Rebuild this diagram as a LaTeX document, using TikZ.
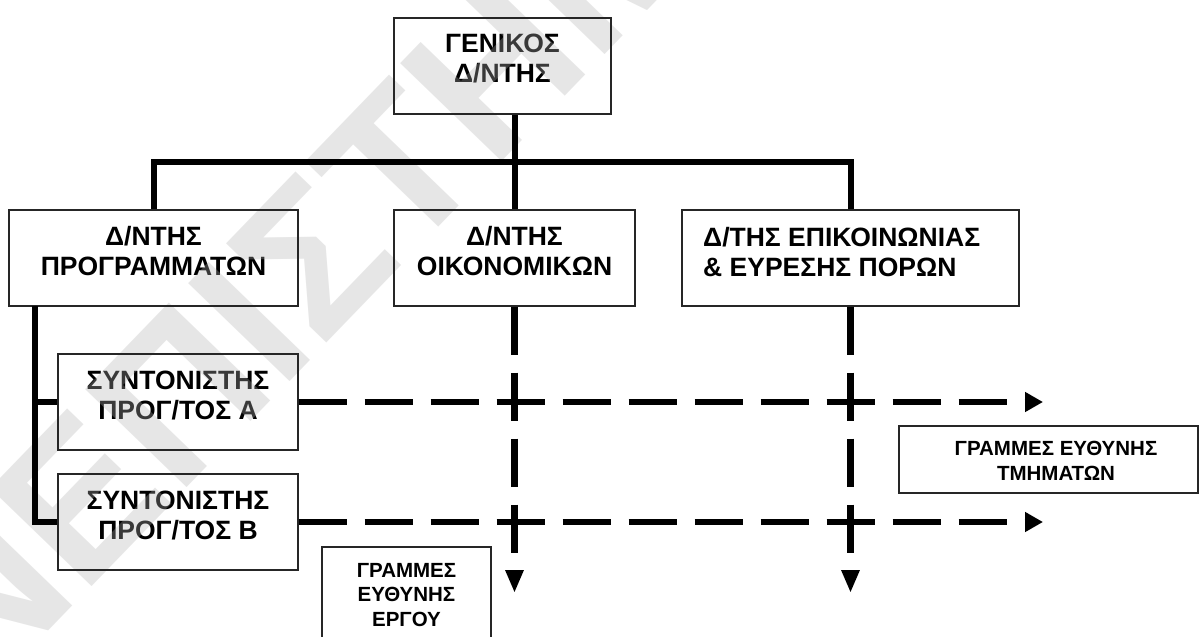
\documentclass[tikz,border=0pt]{standalone}
\usepackage{fontspec}
\setmainfont{Liberation Sans}
\usetikzlibrary{arrows.meta}
\begin{document}
\begin{tikzpicture}[x=1pt,y=-1pt,
  box/.style={draw=black!85, line width=1.2pt, rectangle, inner sep=0pt},
  lbl/.style={font=\bfseries\fontsize{26.5}{30}\selectfont, align=center, inner sep=0pt},
  small/.style={font=\bfseries\fontsize{20.5}{24.5}\selectfont, align=center, inner sep=0pt},
  link/.style={line width=6pt, line join=miter},
  resp/.style={line width=6.5pt, dash pattern=on 48pt off 18pt},
  htip/.style={-{Triangle[length=18pt,width=19pt]}},
  vtip/.style={-{Triangle[length=23pt,width=17pt]}},
  wm/.style={font=\bfseries\fontsize{205}{205}\selectfont, text=black!30,
             text opacity=0.32, inner sep=0pt, rotate=46}
]
\useasboundingbox (0,0) rectangle (1202,637);

% ---- labels (set beneath the watermark) ----
\node[lbl] (gd-t)   at (502.5,58.5) {ΓΕΝΙΚΟΣ\\Δ/ΝΤΗΣ};
\node[lbl] (prog-t) at (153.5,251)  {Δ/ΝΤΗΣ\\ΠΡΟΓΡΑΜΜΑΤΩΝ};
\node[lbl] (oik-t)  at (514.5,251)  {Δ/ΝΤΗΣ\\ΟΙΚΟΝΟΜΙΚΩΝ};
\node[lbl, align=left, anchor=west] (epi-t) at (703,252) {Δ/ΤΗΣ ΕΠΙΚΟΙΝΩΝΙΑΣ\\\& ΕΥΡΕΣΗΣ ΠΟΡΩΝ};
\node[lbl] (syA-t)  at (178,396)    {ΣΥΝΤΟΝΙΣΤΗΣ\\ΠΡΟΓ/ΤΟΣ Α};
\node[lbl] (syB-t)  at (178,516)    {ΣΥΝΤΟΝΙΣΤΗΣ\\ΠΡΟΓ/ΤΟΣ Β};
\node[small] (ergo-t) at (406.5,595) {ΓΡΑΜΜΕΣ\\ΕΥΘΥΝΗΣ\\ΕΡΓΟΥ};
\node[small] (tmim-t) at (1056,461)  {ΓΡΑΜΜΕΣ ΕΥΘΥΝΗΣ\\ΤΜΗΜΑΤΩΝ};

% ---- watermark ----
\node[wm, anchor=base east] (wm1) at (320,350) {ΠΑΝΕΠΙ};
\node[wm, anchor=base west] (wm2) at (320,350) {ΣΤΗΜΙΟ};

% ---- boxes ----
\node[box, minimum width=217pt, minimum height=96pt]  (gd)   at (502.5,66)  {};
\node[box, minimum width=289pt, minimum height=96pt]  (prog) at (153.5,258) {};
\node[box, minimum width=241pt, minimum height=96pt]  (oik)  at (514.5,258) {};
\node[box, minimum width=337pt, minimum height=96pt]  (epi)  at (850.5,258) {};
\node[box, minimum width=240pt, minimum height=96pt]  (syA)  at (178,402)   {};
\node[box, minimum width=240pt, minimum height=96pt]  (syB)  at (178,522)   {};
\node[box, minimum width=169pt, minimum height=110pt] (ergo) at (406.5,602) {};
\node[box, minimum width=299pt, minimum height=67pt]  (tmim) at (1048.5,459.5) {};

% ---- solid reporting lines ----
\coordinate (bus)   at (514.5,162);
\coordinate (spine) at (35,306);
\draw[link] (oik.north) -- (oik.north |- gd.south);
\draw[link] (prog.north) |- (bus) -| (epi.north);
\draw[link] (spine) |- (syB.west);
\draw[link] (spine |- syA.west) -- (syA.west);

% ---- dashed lines of responsibility ----
\coordinate (endA) at (1043,402);
\coordinate (endB) at (1043,522);
\coordinate (endO) at (514.5,593);
\coordinate (endE) at (850.5,593);
\draw[resp, htip] (syA.east) -- (endA);
\draw[resp, htip] (syB.east) -- (endB);
\draw[resp, vtip] (oik.south) -- (endO);
\draw[resp, vtip] (epi.south) -- (endE);
\end{tikzpicture}
\end{document}
